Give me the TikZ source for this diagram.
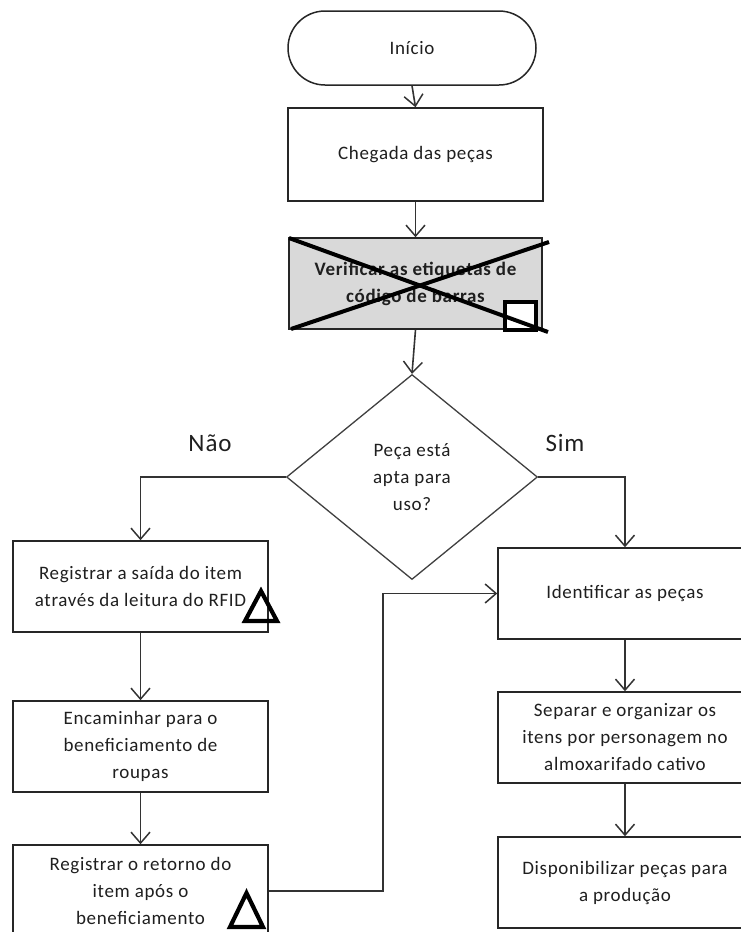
\documentclass[tikz,border=0pt]{standalone}
\usepackage{fontspec}
\setmainfont{Carlito}[LetterSpace=3.5]
\usetikzlibrary{arrows.meta,shapes.geometric}
\definecolor{txt}{HTML}{1F1F1F}
\definecolor{boxfill}{HTML}{D9D9D9}
\tikzset{
  proc/.style={draw=black!85, line width=1.5pt, fill=white, align=center, text=txt,
    font=\fontsize{19}{27}\selectfont, inner sep=2pt},
  conn/.style={draw=black!80, line width=1.6pt, -{Straight Barb[length=11pt,width=19pt,line width=1.5pt]}},
  heavy/.style={draw=black, line width=4.2pt},
  lbl/.style={font=\fontsize{25}{30}\selectfont, text=txt}
}
\begin{document}
\begin{tikzpicture}[x=1pt,y=-1pt]
\useasboundingbox (0,0) rectangle (741,932);
\clip (0,0) rectangle (741,932);
% nodes
\node[proc, rounded corners=37pt, minimum width=248pt, minimum height=74pt] (inicio) at (412,48) {Início};
\node[proc, minimum width=255pt, minimum height=93pt] (chegada) at (415.5,154.5) {Chegada das peças};
\node[proc, fill=boxfill, minimum width=253pt, minimum height=91pt, font=\fontsize{19}{27}\selectfont\bfseries] (verif) at (415.5,283.5) {Verificar as etiquetas de\\código de barras};
\node[proc, shape=diamond, draw=black!75, line width=1.3pt, minimum width=251pt, minimum height=205pt, inner sep=0pt] (dec) at (412,477) {Peça está\\apta para\\uso?};
\node[proc, minimum width=255pt, minimum height=91pt] (reg1) at (140.5,586.5) {Registrar a saída do item\\através da leitura do RFID};
\node[proc, minimum width=255pt, minimum height=91pt] (enc) at (140.5,746.5) {Encaminhar para o\\beneficiamento de\\roupas};
\node[proc, minimum width=255pt, minimum height=92pt] (reg2) at (140.5,891) {Registrar o retorno do\\item após o\\beneficiamento};
\node[proc, minimum width=254pt, minimum height=91pt] (ident) at (625,593.5) {Identificar as peças};
\node[proc, minimum width=254pt, minimum height=91pt] (sep) at (625,737.5) {Separar e organizar os\\itens por personagem no\\almoxarifado cativo};
\node[proc, minimum width=254pt, minimum height=91pt] (disp) at (625,882.5) {Disponibilizar peças para\\a produção};
\node[lbl] (nao) at (210,443) {Não};
\node[lbl] (sim) at (565,443) {Sim};
% cross-out marks on gray box
\coordinate (xa) at (289,238);
\coordinate (xb) at (548,332);
\coordinate (xc) at (291,329);
\coordinate (xd) at (549,242);
\draw[heavy, fill=white] (505,302) rectangle (536,330);
\draw[heavy, line width=4pt] (xa) -- (xb);
\draw[heavy, line width=4pt] (xc) -- (xd);
% triangles
\draw[heavy, line join=miter] (245,621) -- (277,621) -- (261,591) -- cycle;
\draw[heavy, line join=miter] (230,927) -- (263,927) -- (246.5,893) -- cycle;
% connectors
\draw[conn] (inicio.south) -- (chegada.north);
\draw[conn] (chegada.south) -- (verif.north);
\draw[conn] (verif.south) -- (dec.north);
\draw[conn] (dec.west) -| (reg1.north);
\draw[conn] (dec.east) -| (ident.north);
\draw[conn] (reg1.south) -- (enc.north);
\draw[conn] (enc.south) -- (reg2.north);
\coordinate (bend) at (383,891);
\draw[conn] (reg2.east) -- (bend) |- (ident.west);
\draw[conn] (ident.south) -- (sep.north);
\draw[conn] (sep.south) -- (disp.north);
\end{tikzpicture}
\end{document}
